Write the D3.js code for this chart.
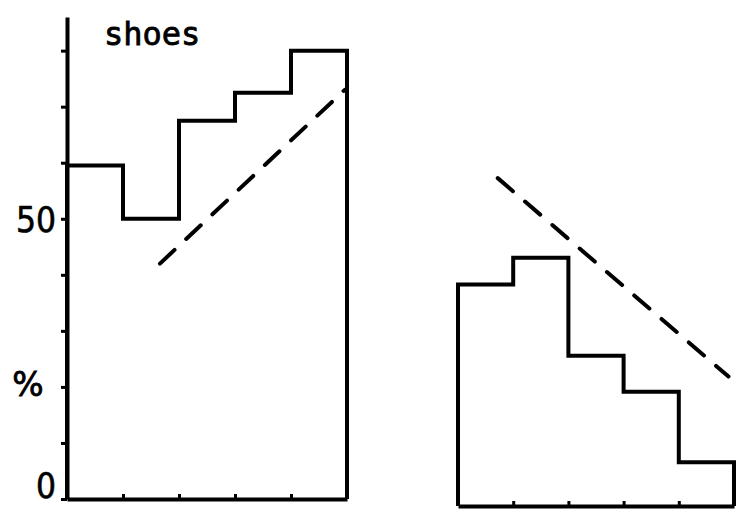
<!DOCTYPE html>
<html>
<head>
<meta charset="utf-8">
<script src="https://cdn.jsdelivr.net/npm/d3@7"></script>
<style>
  body { margin: 0; background: #fff; }
  svg { display: block; }
  text { font-family: "DejaVu Sans", sans-serif; fill: #000; }
</style>
</head>
<body>
<script>
// bins are the five age classes along each panel; values are % reading off the picture
var bins = [0, 1, 2, 3, 4, 5];
var leftValues = [59.5, 50, 67.5, 72.5, 80];
var rightValues = [39.5, 44.3, 26.8, 20.4, 7.8];
// dashed trend lines: [bin position, %]
var leftTrend = [[1.66, 42], [4.96, 73]];
var rightTrend = [[0.72, 58.5], [4.9, 23.1]];
var yTicks = [0, 10, 20, 30, 40, 50, 60, 70, 80];
var yLabels = {0: "0", 50: "50"};

var svg = d3.select("body").append("svg").attr("width", 749).attr("height", 512);

var xLeft = d3.scaleLinear().domain([0, 5]).range([67, 347]);
var yLeft = d3.scaleLinear().domain([0, 86]).range([499, 17]);
var xRight = d3.scaleLinear().domain([0, 5]).range([458, 734]);
var yRight = d3.scaleLinear().domain([0, 86]).range([506, 24]);

// outline of a histogram: up the first edge, steps across, down the last edge
function outline(values, x, y) {
  var pts = [[x(0), y(0)]];
  values.forEach(function (v, i) {
    pts.push([x(i), y(v)]);
    pts.push([x(i + 1), y(v)]);
  });
  pts.push([x(values.length), y(0)]);
  return d3.line()(pts);
}

function panel(values, trend, x, y, withAxis) {
  var g = svg.append("g");

  // bottom axis, ticks pointing up
  var xAxis = g.append("g")
      .attr("transform", "translate(0," + y(0) + ")")
      .call(d3.axisTop(x).tickValues(bins.slice(1, 5)).tickSize(5).tickSizeOuter(0).tickFormat(""));
  xAxis.select(".domain").attr("stroke-width", 4).attr("stroke", "#000");
  xAxis.selectAll(".tick line").attr("stroke-width", 3).attr("stroke", "#000");

  if (withAxis) {
    var yAxis = g.append("g")
        .attr("transform", "translate(" + x(0) + ",0)")
        .call(d3.axisLeft(y).tickValues(yTicks).tickSize(6).tickSizeOuter(0).tickPadding(5)
          .tickFormat(function (d) { return yLabels[d] || ""; }));
    yAxis.select(".domain").attr("stroke-width", 4).attr("stroke", "#000");
    yAxis.selectAll(".tick line").attr("stroke-width", 3).attr("stroke", "#000");
    yAxis.selectAll(".tick text")
        .style("font-size", "35px")
        .style("font-family", "'Liberation Sans Narrow', 'DejaVu Sans Condensed', sans-serif")
        .style("stroke", "#000").style("stroke-width", 0.6)
        .attr("fill", "#000")
        .attr("dy", function (d) { return d === 0 ? "-0.04em" : "0.36em"; });
  }

  g.append("path")
      .attr("d", outline(values, x, y))
      .attr("fill", "none")
      .attr("stroke", "#000")
      .attr("stroke-width", 4)
      .attr("stroke-linejoin", "miter");

  g.append("path")
      .attr("d", d3.line()(trend.map(function (d) { return [x(d[0]), y(d[1])]; })))
      .attr("fill", "none")
      .attr("stroke", "#000")
      .attr("stroke-width", 4)
      .attr("stroke-linecap", "round")
      .attr("stroke-dasharray", "20,16");
}

panel(leftValues, leftTrend, xLeft, yLeft, true);
panel(rightValues, rightTrend, xRight, yRight, false);

svg.append("text")
    .attr("x", 104).attr("y", 45)
    .style("font-family", "'DejaVu Sans Mono', monospace")
    .style("font-size", "32px")
    .style("stroke", "#000").style("stroke-width", 0.8)
    .text("shoes");

svg.append("text")
    .attr("x", 28).attr("y", 396)
    .attr("text-anchor", "middle")
    .style("font-size", "33px")
    .style("stroke", "#000").style("stroke-width", 0.8)
    .text("%");
</script>
</body>
</html>
